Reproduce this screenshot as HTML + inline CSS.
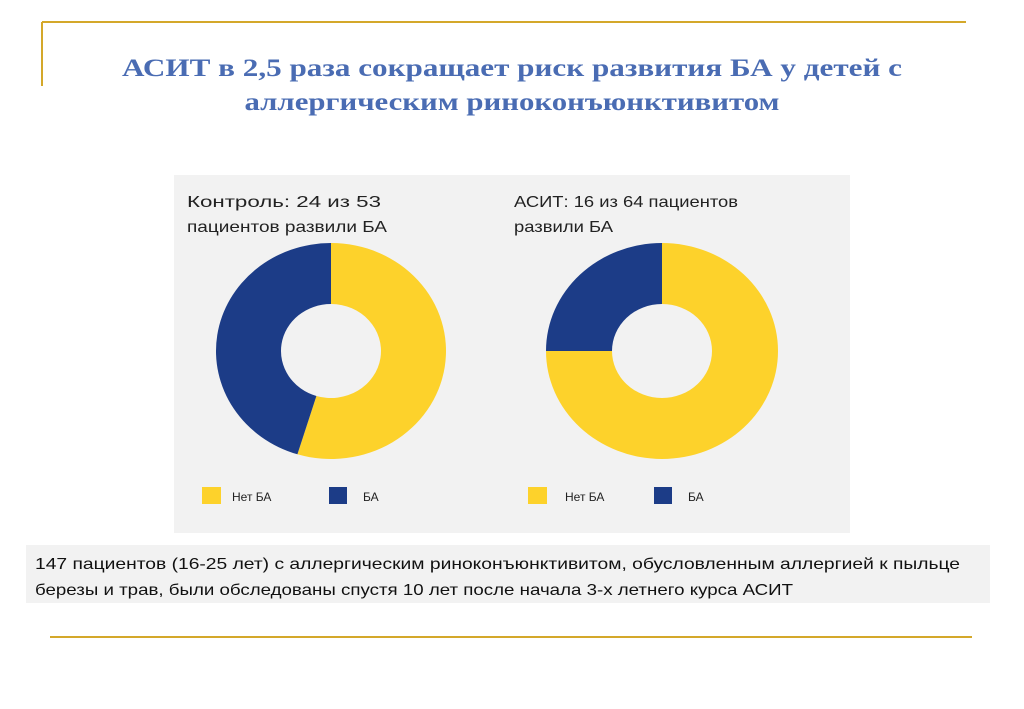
<!DOCTYPE html>
<html><head><meta charset="utf-8">
<style>
html,body{margin:0;padding:0;background:#fff;}
svg{display:block;}
text{font-family:"Liberation Sans",sans-serif;}
.t{font-family:"Liberation Serif",serif;font-weight:bold;fill:#4a6cb3;font-size:25px;}
</style></head>
<body>
<svg id="chart" width="1024" height="709" viewBox="0 0 1024 709">
  <line x1="42" y1="22" x2="966" y2="22" stroke="#d4a82a" stroke-width="2"/>
  <line x1="42" y1="22" x2="42" y2="86" stroke="#d4a82a" stroke-width="2"/>
  <text class="t" x="512" y="76" text-anchor="middle" textLength="780" lengthAdjust="spacingAndGlyphs">АСИТ в 2,5 раза сокращает риск развития БА у детей с</text>
  <text class="t" x="512" y="110" text-anchor="middle" textLength="535" lengthAdjust="spacingAndGlyphs">аллергическим риноконъюнктивитом</text>

  <rect x="174" y="175" width="676" height="358" fill="#f2f2f2"/>
  <text x="187" y="207" font-size="16" fill="#222" textLength="194" lengthAdjust="spacingAndGlyphs">Контроль: 24 из 53</text>
  <text x="187" y="232" font-size="16" fill="#222" textLength="200" lengthAdjust="spacingAndGlyphs">пациентов развили БА</text>
  <text x="514" y="207" font-size="16" fill="#222" textLength="224" lengthAdjust="spacingAndGlyphs">АСИТ: 16 из 64 пациентов</text>
  <text x="514" y="232" font-size="16" fill="#222" textLength="99" lengthAdjust="spacingAndGlyphs">развили БА</text>
  <g id="donuts"></g>

  <rect x="202" y="487" width="19" height="17" fill="#fdd22b"/>
  <text x="232" y="501" font-size="12" fill="#222">Нет БА</text>
  <rect x="329" y="487" width="18" height="17" fill="#1c3c87"/>
  <text x="363" y="501" font-size="12" fill="#222">БА</text>
  <rect x="528" y="487" width="19" height="17" fill="#fdd22b"/>
  <text x="565" y="501" font-size="12" fill="#222">Нет БА</text>
  <rect x="654" y="487" width="18" height="17" fill="#1c3c87"/>
  <text x="688" y="501" font-size="12" fill="#222">БА</text>

  <rect x="26" y="545" width="964" height="58" fill="#f2f2f2"/>
  <text x="35" y="569" font-size="16" fill="#111" textLength="925" lengthAdjust="spacingAndGlyphs">147 пациентов (16-25 лет) с аллергическим риноконъюнктивитом, обусловленным аллергией к пыльце</text>
  <text x="35" y="595" font-size="16" fill="#111" textLength="758" lengthAdjust="spacingAndGlyphs">березы и трав, были обследованы спустя 10 лет после начала 3-х летнего курса АСИТ</text>
  <line x1="50" y1="637" x2="972" y2="637" stroke="#d4a82a" stroke-width="2"/>
</svg>
<script>
const categories = ["Нет БА", "БА"];
const controlValues = [29, 24];
const asitValues = [48, 16];
const colors = ["#fdd22b", "#1c3c87"];
const NS = "http://www.w3.org/2000/svg";
const g = document.getElementById("donuts");
function pt(cx, cy, rx, ry, a) { return [cx + rx * Math.sin(a), cy - ry * Math.cos(a)]; }
function donut(values, cx, cy, rx, ry, irx, iry, prefix) {
  const total = values.reduce((s, v) => s + v, 0);
  let start = 0;
  values.forEach((v, i) => {
    const frac = v / total;
    const end = start + frac * 2 * Math.PI;
    const large = frac > 0.5 ? 1 : 0;
    const p1 = pt(cx, cy, rx, ry, start), p2 = pt(cx, cy, rx, ry, end);
    const q2 = pt(cx, cy, irx, iry, end), q1 = pt(cx, cy, irx, iry, start);
    const d = `M${p1[0]},${p1[1]} A${rx},${ry} 0 ${large} 1 ${p2[0]},${p2[1]} L${q2[0]},${q2[1]} A${irx},${iry} 0 ${large} 0 ${q1[0]},${q1[1]} Z`;
    const path = document.createElementNS(NS, "path");
    path.setAttribute("d", d);
    path.setAttribute("fill", colors[i]);
    
    
    g.appendChild(path);
    start = end;
  });
}
donut(controlValues, 331, 351, 115, 108, 50, 47, "control");
donut(asitValues, 662, 351, 116, 108, 50, 47, "asit");
</script>
</body></html>
